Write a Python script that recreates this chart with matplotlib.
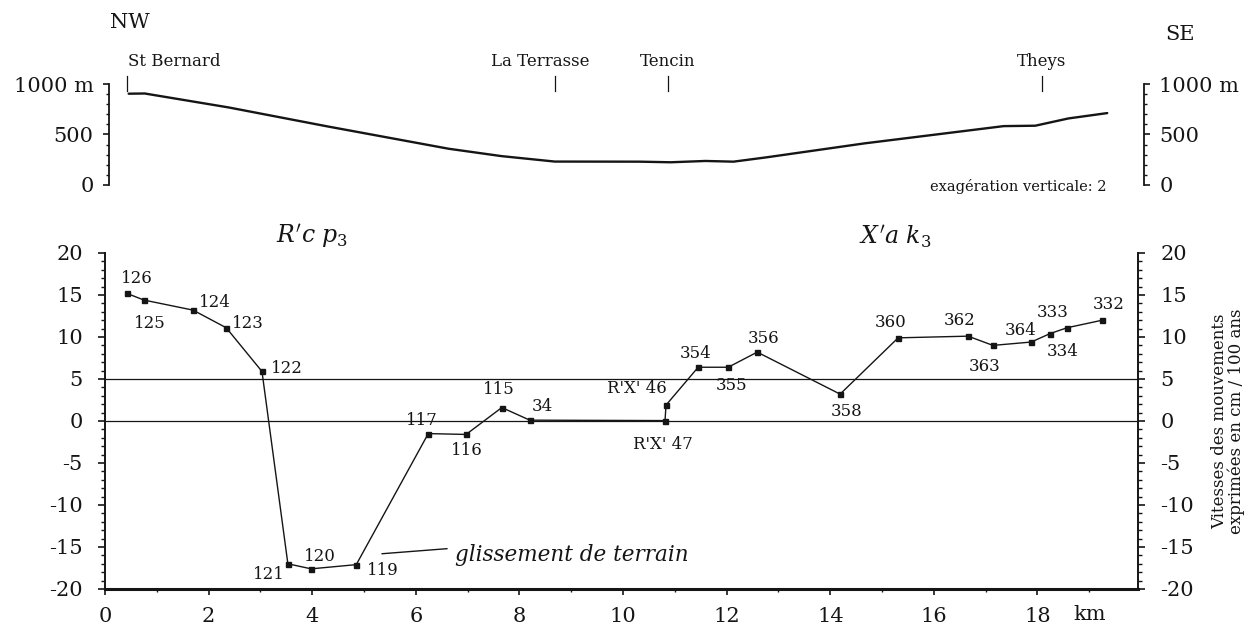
import matplotlib.pyplot as plt
from matplotlib.ticker import MultipleLocator

plt.rcParams["font.family"] = ["DejaVu Serif"]
plt.rcParams["mathtext.fontset"] = "dejavuserif"
plt.rcParams["axes.unicode_minus"] = False

# ground profile along the section (km, m)
profile_km = [0.46, 0.77, 2.39, 4.29, 6.64, 7.66, 8.69, 10.33, 10.93, 11.6,
              12.14, 12.78, 14.67, 17.03, 17.36, 17.97, 18.61, 19.36]
profile_m = [904, 906, 768, 581, 359, 286, 232, 231, 225, 238,
             231, 274, 412, 562, 583, 587, 659, 712]

places = ["St Bernard", "La Terrasse", "Tencin", "Theys"]
place_km = [0.43, 8.7, 10.87, 18.1]

# levelling benchmarks: name, distance (km), speed (cm / 100 ans)
bench_names = ["126", "125", "124", "123", "122", "121", "120", "119", "117",
               "116", "115", "34", "R'X' 47", "R'X' 46", "354", "355", "356",
               "358", "360", "362", "363", "364", "333", "334", "332"]
bench_km = [0.42, 0.75, 1.70, 2.34, 3.03, 3.53, 3.98, 4.85, 6.24,
            6.97, 7.66, 8.20, 10.81, 10.83, 11.45, 12.03, 12.59,
            14.19, 15.31, 16.66, 17.14, 17.88, 18.24, 18.57, 19.25]
bench_speed = [15.2, 14.4, 13.2, 11.1, 5.9, -17.0, -17.6, -17.1, -1.5,
               -1.6, 1.6, 0.1, 0.05, 1.9, 6.4, 6.4, 8.2,
               3.2, 9.9, 10.1, 9.0, 9.4, 10.4, 11.1, 12.0]

# label offsets in pixels (layout only)
label_offsets = [(10, 15), (6, -23), (22, 8), (22, 4), (25, 3), (-19, -11),
                 (9, 12), (27, -6), (-6, 13), (1, -16), (-3, 18), (13, 14),
                 (-2, -24), (-29, 17), (-3, 14), (3, -18), (6, 14), (7, -17),
                 (-8, 15), (-8, 16), (-8, -21), (-11, 12), (3, 21), (-4, -24),
                 (6, 16)]

W, H = 1258, 635
fig = plt.figure(figsize=(W / 100, H / 100), dpi=100)
ink = "#151515"

# ---------------- top panel: topographic profile ----------------
axt = fig.add_axes([109 / W, 1 - 185 / H, 1035 / W, 101 / H])
axt.plot(profile_km, profile_m, color=ink, lw=1.7, solid_capstyle="round")
axt.set_xlim(0.08, 20.07)
axt.set_ylim(0, 1000)
for s in ["top", "bottom"]:
    axt.spines[s].set_visible(False)
for s in ["left", "right"]:
    axt.spines[s].set_linewidth(1.3)
    axt.spines[s].set_color(ink)
axt.set_xticks([])
axt.set_yticks([0, 500, 1000], labels=["0", "500", "1000 m"])
axt.yaxis.set_minor_locator(MultipleLocator(100))
axt.tick_params(axis="y", which="both", left=True, right=True,
                labelleft=True, labelright=True, direction="out",
                labelsize=15, pad=7, colors=ink)
axt.tick_params(axis="y", which="major", length=4, width=1.2)
axt.tick_params(axis="y", which="minor", length=2.5, width=1)

for name, km in zip(places, place_km):
    ha = "left" if name == "St Bernard" else "center"
    tx = km + 0.02 if ha == "left" else km - 0.3 * (name == "La Terrasse")
    axt.text(tx, 1225, name, ha=ha, va="center", fontsize=12, color=ink,
             clip_on=False)
    axt.plot([km, km], [1075, 935], color=ink, lw=0.9, clip_on=False)

fig.text(130 / W, 1 - 22 / H, "NW", ha="center", va="center", fontsize=15,
         color=ink)
fig.text(1180 / W, 1 - 35 / H, "SE", ha="center", va="center", fontsize=15,
         color=ink)
fig.text(1106 / W, 1 - 187 / H, "exagération verticale: 2", ha="right",
         va="center", fontsize=10.5, color=ink)

# ---------------- bottom panel: movement speeds ----------------
ax = fig.add_axes([105 / W, 1 - 589 / H, 1033 / W, 336 / H])
ax.set_xlim(0, 19.94)
ax.set_ylim(-20, 20)
ax.axhline(5, color=ink, lw=0.9)
ax.axhline(0, color=ink, lw=0.9)
ax.plot(bench_km, bench_speed, color=ink, lw=1.0, marker="s",
        markersize=3.6, markerfacecolor=ink, markeredgecolor=ink)

for name, km, v, (dx, dy) in zip(bench_names, bench_km, bench_speed,
                                 label_offsets):
    ax.annotate(name, (km, v), xytext=(dx, dy), textcoords="offset pixels",
                ha="center", va="center", fontsize=12, color=ink)

ax.spines["top"].set_visible(False)
for s in ["left", "right"]:
    ax.spines[s].set_linewidth(1.4)
    ax.spines[s].set_color(ink)
ax.spines["bottom"].set_linewidth(2.2)
ax.spines["bottom"].set_color(ink)

ax.set_xticks(range(0, 19, 2))
ax.xaxis.set_minor_locator(MultipleLocator(1))
ax.set_yticks(range(-20, 21, 5))
ax.yaxis.set_minor_locator(MultipleLocator(1))
ax.tick_params(axis="x", which="both", direction="out", labelsize=15,
               pad=9, colors=ink)
ax.tick_params(axis="x", which="major", length=4, width=1.2)
ax.tick_params(axis="x", which="minor", length=2.5, width=1)
ax.tick_params(axis="y", which="both", left=True, right=True,
               labelleft=True, labelright=True, direction="out",
               labelsize=15, pad=11, colors=ink)
ax.tick_params(axis="y", which="major", length=5, width=1.2)
ax.tick_params(axis="y", which="minor", length=3, width=1)

ax.text(19.0, -0.077, "km", transform=ax.get_xaxis_transform(),
        ha="center", va="center", fontsize=15, color=ink)
ax.text(1.087, 0.5, "Vitesses des mouvements\nexprimées en cm / 100 ans",
        transform=ax.transAxes, rotation=90, ha="center", va="center",
        fontsize=12, color=ink, linespacing=0.95)

ax.text(4.0, 21.9, r"$R'c\ p_3$", ha="center", va="center", fontsize=17,
        color=ink, clip_on=False)
ax.text(15.25, 21.9, r"$X'a\ k_3$", ha="center", va="center", fontsize=17,
        color=ink, clip_on=False)

ax.plot([5.35, 6.6], [-15.8, -15.2], color=ink, lw=1.0)
ax.text(6.76, -15.9, "glissement de terrain", style="italic", ha="left",
        va="center", fontsize=15.5, color=ink)

fig.savefig("out.png", dpi=100, facecolor="white")
